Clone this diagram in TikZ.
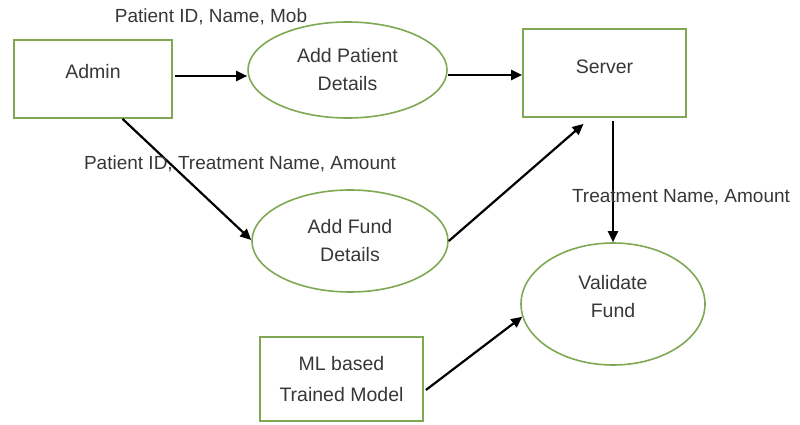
\documentclass[tikz,border=0pt]{standalone}
\usepackage{fontspec}
\setmainfont{Liberation Sans}
\usetikzlibrary{shapes.geometric,arrows.meta,calc}
\definecolor{boxgreen}{RGB}{128,168,84}
\definecolor{txtgray}{RGB}{55,55,55}
\tikzset{
  entity/.style={draw=boxgreen, line width=1.8pt, rectangle, inner sep=0pt, text=txtgray, align=center},
  process/.style={draw=boxgreen, line width=1.6pt, ellipse, inner sep=0pt, text=txtgray, align=center},
  inner/.style={text=txtgray, align=center, inner sep=0pt},
  flow/.style={line width=2.2pt, -{Triangle[length=11pt,width=10pt]}},
  lbl/.style={text=txtgray, inner sep=0pt, font=\fontsize{19}{22}\selectfont},
}
\begin{document}
\begin{tikzpicture}[x=1pt,y=-1pt, font=\fontsize{19.5}{28}\selectfont]
\useasboundingbox (0,0) rectangle (800,425);
% external entities
\node[entity, minimum width=158pt, minimum height=78pt,
      label={[inner, yshift=7pt]center:Admin}] (admin) at (93,79) {};
\node[entity, minimum width=163pt, minimum height=88pt,
      label={[inner, yshift=6pt]center:Server}] (server) at (604.5,73) {};
\node[entity, minimum width=163pt, minimum height=84pt] (ml) at (341.5,379) {ML based\\[3pt]Trained Model};
% processes
\node[process, minimum width=199pt, minimum height=96pt] (ap) at (347.5,70) {Add Patient\\Details};
\node[process, minimum width=196pt, minimum height=102pt] (af) at (350,241) {Add Fund\\Details};
\node[process, minimum width=184pt, minimum height=122pt,
      label={[inner, yshift=7.5pt]center:Validate\\Fund}] (vf) at (613,304) {};
% data flows
\draw[flow] ($(admin.east)+(2,-3)$) -- ($(ap.west)+(0,6)$);
\draw[flow] ($(ap.east)+(0,5)$) -- ($(server.west)+(0,2)$);
\draw[flow] ($(admin.south west)!0.685!(admin.south east)$) -- ($(af.west)+(0,-1)$);
\draw[flow] (af.east) -- ($(server.south)+(-21,6)$);
\draw[flow] ($(server.south)+(8.5,3)$) -- (vf.north);
\draw[flow] ($(ml.east)+(2,11)$) -- (vf.188);
% flow labels
\node[lbl] (l1) at (211,17) {Patient ID, Name, Mob};
\node[lbl] (l2) at (240,164) {Patient ID, Treatment Name, Amount};
\node[lbl] (l3) at (681,197) {Treatment Name, Amount};
\end{tikzpicture}
\end{document}
